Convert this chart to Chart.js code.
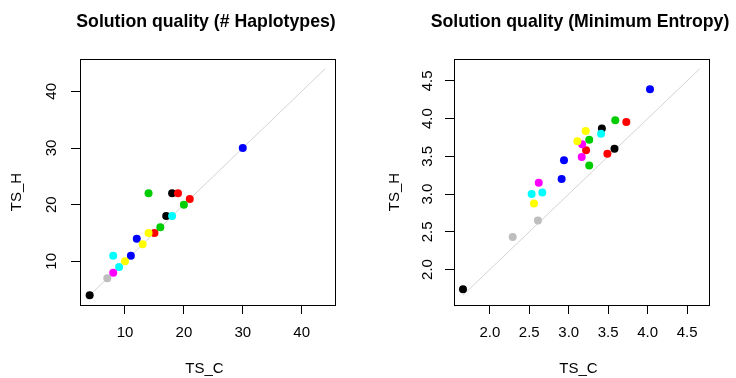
<!DOCTYPE html>
<html>
<head>
<meta charset="utf-8">
<script src="https://cdn.jsdelivr.net/npm/chart.js@4"></script>
<style>
    html, body { margin: 0; padding: 0; background: #fff; }
    .panel { position: absolute; top: 0; width: 368px; height: 378px; }
    #left { left: 0; }
    #right { left: 368px; }
</style>
</head>
<body>
<div class="panel" id="left"><canvas id="hapChart" width="368" height="378"></canvas></div>
<div class="panel" id="right"><canvas id="entChart" width="368" height="378"></canvas></div>
<script>
// colores de la paleta por defecto de R, un color por grupo
const pointColors = {
    black: '#000000', red: '#ff0000', green: '#00cd00', blue: '#0000ff',
    cyan: '#00ffff', magenta: '#ff00ff', yellow: '#ffff00', gray: '#bebebe'
};

// Solution quality (# Haplotypes)
const hapGroups = ['black', 'black', 'black', 'red', 'red', 'red', 'green', 'green', 'green',
    'blue', 'blue', 'blue', 'cyan', 'cyan', 'cyan', 'magenta', 'yellow', 'yellow', 'yellow', 'gray'];
const hapTSC = [4, 17, 18, 15, 19, 21, 16, 14, 20, 11, 12, 30, 9, 8, 18, 8, 10, 13, 14, 7];
const hapTSH = [4, 18, 22, 15, 22, 21, 16, 22, 20, 11, 14, 30, 9, 11, 18, 8, 10, 13, 15, 7];
const hapTicks = [10, 20, 30, 40];
const hapDiag = [4, 44];

// Solution quality (Minimum Entropy)
const entGroups = ['black', 'black', 'black', 'red', 'red', 'red', 'green', 'green', 'green',
    'blue', 'blue', 'blue', 'cyan', 'cyan', 'cyan', 'magenta', 'magenta', 'magenta',
    'yellow', 'yellow', 'yellow', 'gray', 'gray'];
const entTSC = [1.66, 3.42, 3.58, 3.22, 3.49, 3.73, 3.26, 3.26, 3.59, 2.91, 2.94, 4.03,
    2.53, 2.665, 3.41, 2.62, 3.165, 3.17, 2.56, 3.11, 3.215, 2.29, 2.61];
const entTSH = [1.74, 3.87, 3.60, 3.58, 3.535, 3.955, 3.38, 3.72, 3.98, 3.20, 3.45, 4.39,
    3.00, 3.02, 3.80, 3.15, 3.49, 3.66, 2.875, 3.70, 3.835, 2.43, 2.65];
const entTicks = [2.0, 2.5, 3.0, 3.5, 4.0, 4.5];
const entDiag = [1.66, 4.66];

const FONT = '"Liberation Sans", Arial, Helvetica, sans-serif';

// recuadro alrededor del area del grafico + ajustes de posicion de titulos
const boxPlugin = {
    id: 'plotBox',
    afterLayout(chart) {
        // el titulo se centra sobre el area del grafico pero sin recortar su ancho
        const a = chart.chartArea;
        const t = chart.titleBlock;
        const c = (a.left + a.right) / 2 - 1.5;
        t.left = c - 180;
        t.right = c + 180;
        t.width = 360;
        // R coloca los titulos de los ejes un poco desplazados
        [['x', -3, 0], ['y', 0, 10]].forEach(([id, dx, dy]) => {
            const s = chart.scales[id];
            if (s._titleShifted) return;
            const orig = s.drawTitle;
            s.drawTitle = function() {
                this.ctx.save();
                this.ctx.translate(dx, dy);
                orig.call(this);
                this.ctx.restore();
            };
            s._titleShifted = true;
        });
    },
    afterDatasetsDraw(chart) {
        const a = chart.chartArea;
        const ctx = chart.ctx;
        ctx.save();
        ctx.strokeStyle = '#000';
        ctx.lineWidth = 1;
        ctx.strokeRect(Math.round(a.left) + 0.5, Math.round(a.top) + 0.5,
            Math.round(a.right - a.left), Math.round(a.bottom - a.top));
        ctx.restore();
    }
};

function buildAxis(range, ticks, isY, cfg) {
    return {
        type: 'linear',
        min: range[0],
        max: range[1],
        afterBuildTicks: scale => {
            scale.ticks = ticks.map(v => ({ value: v }));
        },
        afterFit: scale => {
            if (isY) scale.width = cfg.yWidth;
            else scale.height = cfg.xHeight;
        },
        border: { display: false },
        grid: {
            display: true,
            drawOnChartArea: false,
            drawTicks: true,
            tickLength: 9,
            color: '#000'
        },
        ticks: {
            color: '#000',
            font: { family: FONT, size: 15 },
            padding: isY ? cfg.yTickPad : 10,
            minRotation: isY ? 90 : 0,
            maxRotation: isY ? 90 : 0,
            crossAlign: isY ? 'center' : 'near',
            callback: v => cfg.decimals ? v.toFixed(1) : String(v)
        },
        title: {
            display: true,
            text: isY ? 'TS_H' : 'TS_C',
            color: '#000',
            font: { family: FONT, size: 15 },
            padding: isY ? { top: cfg.yTitlePad, bottom: 0 } : { top: 0, bottom: 0 }
        }
    };
}

function renderPanel(canvasId, title, xs, ys, groups, diag, ticks, cfg) {
    const ctx = document.getElementById(canvasId).getContext('2d');
    const points = xs.map((x, i) => ({ x: x, y: ys[i] }));

    new Chart(ctx, {
        type: 'scatter',
        data: {
            datasets: [{
                data: points,
                backgroundColor: groups.map(g => pointColors[g]),
                borderWidth: 0,
                pointRadius: 4,
                pointHoverRadius: 4,
                order: 1
            }, {
                type: 'line',
                data: [{ x: diag[0], y: diag[0] }, { x: diag[1], y: diag[1] }],
                borderColor: '#d3d3d3',
                borderWidth: 1,
                pointRadius: 0,
                fill: false,
                order: 2
            }]
        },
        options: {
            responsive: false,
            animation: false,
            layout: { padding: { left: 0, right: cfg.rightPad, top: 0, bottom: 0 } },
            plugins: {
                legend: { display: false },
                tooltip: { enabled: false },
                title: {
                    display: true,
                    text: title,
                    fullSize: false,
                    color: '#000',
                    font: { family: FONT, size: 17.7, weight: 'bold' },
                    padding: { top: 11, bottom: 26.8 }
                }
            },
            scales: {
                x: buildAxis(cfg.xRange, ticks, false, cfg),
                y: buildAxis(cfg.yRange, ticks, true, cfg)
            }
        },
        plugins: [boxPlugin]
    });
}

renderPanel('hapChart', 'Solution quality (# Haplotypes)', hapTSC, hapTSH, hapGroups, hapDiag, hapTicks, {
    xRange: [2.36, 45.66], yRange: [2.3, 45.7],
    yWidth: 80, xHeight: 73, rightPad: 33, yTickPad: 11, yTitlePad: 8, decimals: false
});

renderPanel('entChart', 'Solution quality (Minimum Entropy)', entTSC, entTSH, entGroups, entDiag, entTicks, {
    xRange: [1.546, 4.778], yRange: [1.53, 4.79],
    yWidth: 86, xHeight: 73, rightPad: 27, yTickPad: 7, yTitlePad: 18, decimals: true
});
</script>
</body>
</html>
